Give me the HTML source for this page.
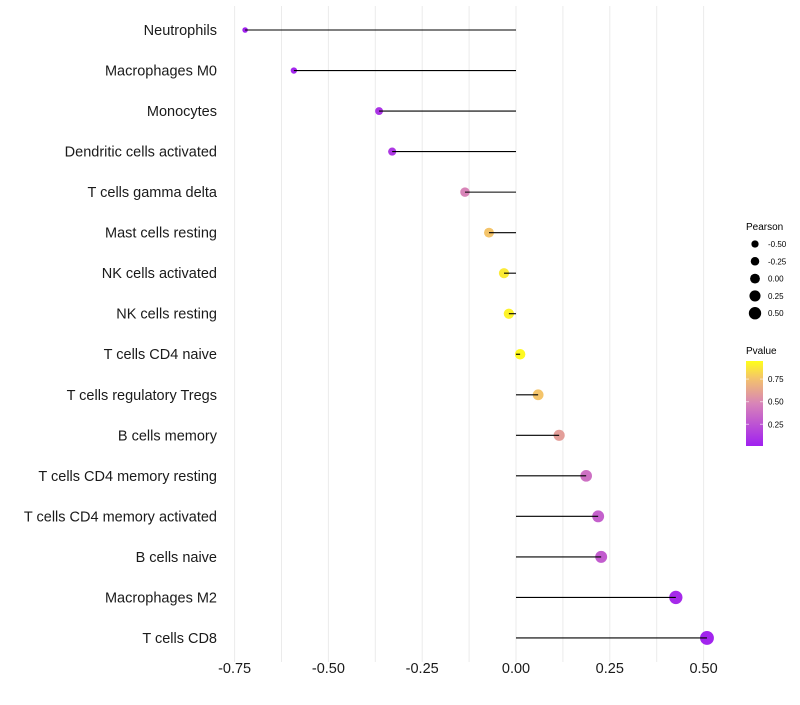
<!DOCTYPE html>
<html><head><meta charset="utf-8"><style>
body{margin:0;background:#fff;font-family:"Liberation Sans",sans-serif}
</style></head><body>
<svg id="chart" width="800" height="700" xmlns="http://www.w3.org/2000/svg" font-family="Liberation Sans, sans-serif">
<defs><linearGradient id="pg" x1="0" y1="1" x2="0" y2="0">
<stop offset="0" stop-color="#A020F0"/><stop offset="0.5" stop-color="#D884B8"/><stop offset="0.8" stop-color="#F4C46A"/><stop offset="1" stop-color="#FFFF1A"/></linearGradient></defs>
<g id="grid"></g><g id="marks"></g><g id="labels"></g>
<g>
<text x="746" y="230" font-size="10">Pearson</text>
<g id="sizeleg"></g>
<text x="746" y="354" font-size="10">Pvalue</text>
<rect x="746" y="361" width="17" height="85" fill="url(#pg)"/>
<g id="cbticks"></g>
</g>
</svg>
<script>
const categories=["Neutrophils","Macrophages M0","Monocytes","Dendritic cells activated","T cells gamma delta","Mast cells resting","NK cells activated","NK cells resting","T cells CD4 naive","T cells regulatory  Tregs ","B cells memory","T cells CD4 memory resting","T cells CD4 memory activated","B cells naive","Macrophages M2","T cells CD8"];
const pearson=[-0.722,-0.592,-0.365,-0.330,-0.136,-0.072,-0.032,-0.019,0.011,0.059,0.115,0.187,0.219,0.227,0.426,0.509];
const pvalue=[0.01,0.03,0.1,0.12,0.5,0.8,0.93,0.96,0.98,0.8,0.62,0.4,0.32,0.3,0.05,0.02];
const xTicks=[-0.75,-0.5,-0.25,0,0.25,0.5];
const xTickLabels=["-0.75","-0.50","-0.25","0.00","0.25","0.50"];
const sizeLeg=[-0.5,-0.25,0,0.25,0.5];
const sizeLegLabels=["-0.50","-0.25","0.00","0.25","0.50"];
const cbTicks=[0.25,0.5,0.75];
const cbLabels=["0.25","0.50","0.75"];
const NS="http://www.w3.org/2000/svg";
const X=v=>516+v*375.2;
const Y=i=>30+i*40.53;
const R=v=>Math.max(1.8,5.2+3.4*v);
const stops=[[0,[160,32,240]],[0.5,[216,132,184]],[0.8,[244,196,106]],[1,[255,255,26]]];
function col(p){for(let k=1;k<stops.length;k++){if(p<=stops[k][0]){const a=stops[k-1],b=stops[k],t=(p-a[0])/(b[0]-a[0]);return"rgb("+a[1].map((c,j)=>Math.round(c+(b[1][j]-c)*t)).join(",")+")";}}return"rgb(255,255,26)";}
function mk(t,a,parent){const e=document.createElementNS(NS,t);for(const k in a)e.setAttribute(k,a[k]);document.getElementById(parent).appendChild(e);return e;}
for(let v=-0.75;v<=0.51;v+=0.125){const l=mk("line",{x1:X(v),x2:X(v),y1:6,y2:662,stroke:"#ebebeb","stroke-width":1},"grid");

}
categories.forEach((c,i)=>{
const cc=mk("circle",{cx:X(pearson[i]),cy:Y(i),r:R(pearson[i]),fill:col(pvalue[i])},"marks");


const s=mk("line",{x1:X(0),x2:X(pearson[i]),y1:Y(i),y2:Y(i),stroke:"#000","stroke-width":1.1},"marks");


const t=mk("text",{x:217,y:Y(i)+5,"text-anchor":"end","font-size":14.5,fill:"#1a1a1a"},"labels");
t.textContent=c;


});
xTicks.forEach((v,i)=>{const t=mk("text",{x:X(v),y:673,"text-anchor":"middle","font-size":14.5,fill:"#1a1a1a"},"labels");t.textContent=xTickLabels[i];

});
sizeLeg.forEach((v,i)=>{const y=244+i*17.3;
const c=mk("circle",{cx:755,cy:y,r:R(v)*0.75+1,fill:"#000"},"sizeleg");


const t=mk("text",{x:768,y:y+3,"font-size":8},"sizeleg");t.textContent=sizeLegLabels[i];

});
cbTicks.forEach((v,i)=>{const y=446-(v-0.01)/0.94*85;
const t=mk("text",{x:768,y:y+3,"font-size":8},"cbticks");t.textContent=cbLabels[i];


mk("line",{x1:746,x2:749,y1:y,y2:y,stroke:"#fff","stroke-opacity":0.6},"cbticks");
mk("line",{x1:760,x2:763,y1:y,y2:y,stroke:"#fff","stroke-opacity":0.6},"cbticks");});
</script>
</body></html>
